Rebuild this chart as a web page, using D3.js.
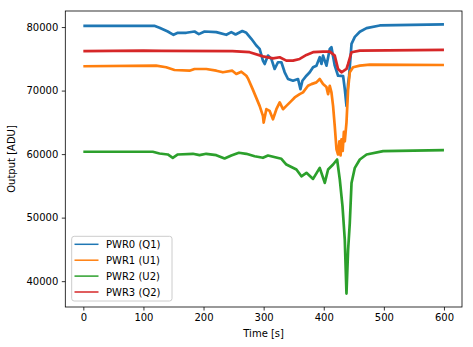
<!DOCTYPE html>
<html><head><meta charset="utf-8">
<script src="https://cdn.jsdelivr.net/npm/d3@7"></script>
<style>
html,body{margin:0;padding:0;background:#fff;}
svg{display:block;font-family:"DejaVu Sans",sans-serif;}
</style></head>
<body><svg id="chart" width="473" height="347"></svg>
<script>
// ---- data ----
const seriesNames = ["PWR0 (Q1)", "PWR1 (U1)", "PWR2 (U2)", "PWR3 (Q2)"];
const seriesColors = ["#1f77b4", "#ff7f0e", "#2ca02c", "#d62728"];
const xTicks = [0, 100, 200, 300, 400, 500, 600];
const yTicks = [40000, 50000, 60000, 70000, 80000];

const pwr0T = [0,118,126.7,140.5,150,157.2,171.2,185,192.2,201.7,221.2,237.8,246.2,253.3,264.5,271.2,279.5,287.8,293.3,298.8,301.7,307.2,312.8,318.3,323.8,329.5,335,340.5,348.8,357.2,361.2,364.5,371.2,376.7,382.2,387.8,393.3,396.2,398.8,404.5,410,412.8,418.3,423.8,432.2,435,437.8,440.5,442.2,446.2,451.7,460,471.2,493.3,600];
const pwr0V = [80200,80200,79890,79300,78780,79100,79100,79300,78890,79300,79210,78780,79210,78830,79370,79100,78150,77090,76570,74720,74190,75510,74990,73400,74460,74460,72880,71820,71550,71820,70230,71550,72340,72880,73670,73920,75250,74190,75500,73920,76560,76830,73920,72340,72290,70240,67590,71020,72340,77360,78460,79260,79840,80250,80410];

const pwr1T = [0,121,137.8,151.7,176.7,185,204.5,221.2,232.2,247.8,254.5,262.8,271.2,273.8,281.7,293.3,298.8,300,304.5,310,315.5,321.2,326.7,332.2,337.8,346.2,351.7,360,365.5,373.8,379.5,387.8,393.3,398.8,404.5,407.2,410,412.8,415.5,418.3,421.2,423.8,426,428,429.5,431.5,433.5,435,437.8,440.5,443.3,448.8,460,476.7,600];
const pwr1V = [73830,73920,73670,73240,73130,73400,73400,73130,72880,73130,72610,72970,72340,71930,70230,67590,66010,64960,67070,66800,65480,67070,68130,67070,67590,68380,68920,69440,69710,70760,71020,71290,71820,71020,70550,69440,70760,69710,67590,64420,60740,59940,62000,59800,62320,60500,63500,62000,64960,70230,72880,73670,73920,74080,74030];

const pwr2T = [0,115.5,126.7,140.5,148.8,157.2,182.2,193.3,204.5,221.2,235,246.2,258.8,271.2,285,298.8,307.2,329.5,337.8,354.5,362.8,371.2,382.2,393.3,401.7,407.2,415.5,422.2,426.7,431.2,435,437.8,440.5,443.3,446.2,451.7,460,471.2,498.8,600];
const pwr2V = [60370,60370,60100,59940,59420,59940,60050,59830,60050,59830,59310,59780,60210,60050,59670,59420,59780,59260,58360,57570,56510,57050,56100,57840,55470,57570,58360,59150,55980,51760,46490,38050,44900,49130,55460,57840,59150,59940,60470,60620];

const pwr3T = [0,100,130,248,276.7,298.8,315.5,326.7,337.8,348.8,360,371.2,382.2,398.8,410,418.3,423.8,429.5,437.8,440.5,446.2,460,600];
const pwr3V = [76200,76300,76250,76200,76040,75380,75060,75250,74710,74710,74980,75610,76040,76140,76140,75500,73400,72880,73400,74190,76040,76300,76410];

const seriesT = [pwr0T, pwr1T, pwr2T, pwr3T];
const seriesV = [pwr0V, pwr1V, pwr2V, pwr3V];

// ---- layout ----
const svg = d3.select("#chart");
const L = 65.3, R = 462, T = 11, B = 307;
const x = d3.scaleLinear().domain([-30, 630]).range([L, R]);
const allV = seriesV.flat();
const vmin = d3.min(allV), vmax = d3.max(allV), pad = (vmax - vmin) * 0.05;
const y = d3.scaleLinear().domain([vmin - pad, vmax + pad]).range([B, T]);

svg.append("rect").attr("width", 473).attr("height", 347).attr("fill", "#fff");

svg.append("clipPath").attr("id", "clip").append("rect")
  .attr("x", L).attr("y", T).attr("width", R - L).attr("height", B - T);

const line = d3.line().x(d => x(d[0])).y(d => y(d[1]));
const g = svg.append("g").attr("clip-path", "url(#clip)");
seriesT.forEach((ts, i) => {
  const pts = ts.map((t, j) => [t, seriesV[i][j]]);
  g.append("path").datum(pts).attr("d", line)
    .attr("fill", "none").attr("stroke", seriesColors[i])
    .attr("stroke-width", 2.7).attr("stroke-linejoin", "round");
});

// axes
const xAxis = d3.axisBottom(x).tickValues(xTicks).tickSize(3.5).tickPadding(3.5).tickFormat(d3.format("d"));
const yAxis = d3.axisLeft(y).tickValues(yTicks).tickSize(3.5).tickPadding(3.5).tickFormat(d3.format("d"));
const gx = svg.append("g").attr("transform", `translate(0,${B})`).call(xAxis);
const gy = svg.append("g").attr("transform", `translate(${L},0)`).call(yAxis);
[gx, gy].forEach(a => {
  a.select(".domain").remove();
  a.selectAll("line").attr("stroke", "#000").attr("stroke-width", 0.8);
  a.selectAll("text").attr("font-size", 10).attr("fill", "#000").attr("font-family", "DejaVu Sans");
});

// frame
svg.append("rect").attr("x", L).attr("y", T).attr("width", R - L).attr("height", B - T)
  .attr("fill", "none").attr("stroke", "#000").attr("stroke-width", 0.8);

// labels
svg.append("text").attr("x", (L + R) / 2).attr("y", 337).attr("text-anchor", "middle")
  .attr("font-size", 10).text("Time [s]");
svg.append("text").attr("transform", `translate(15,${(T + B) / 2}) rotate(-90)`)
  .attr("text-anchor", "middle").attr("font-size", 10).text("Output [ADU]");

// legend
const lg = svg.append("g");
lg.append("rect").attr("x", 71.7).attr("y", 236.3).attr("width", 100.3).attr("height", 64.7)
  .attr("rx", 2.5).attr("fill", "#fff").attr("fill-opacity", 0.8)
  .attr("stroke", "#cccccc").attr("stroke-width", 1);
seriesNames.forEach((n, i) => {
  const yy = 244.3 + i * 15.9;
  lg.append("line").attr("x1", 74.5).attr("x2", 98.5).attr("y1", yy).attr("y2", yy)
    .attr("stroke", seriesColors[i]).attr("stroke-width", 1.5);
  lg.append("text").attr("x", 106).attr("y", yy + 3.6).attr("font-size", 10).text(n);
});
</script></body></html>
